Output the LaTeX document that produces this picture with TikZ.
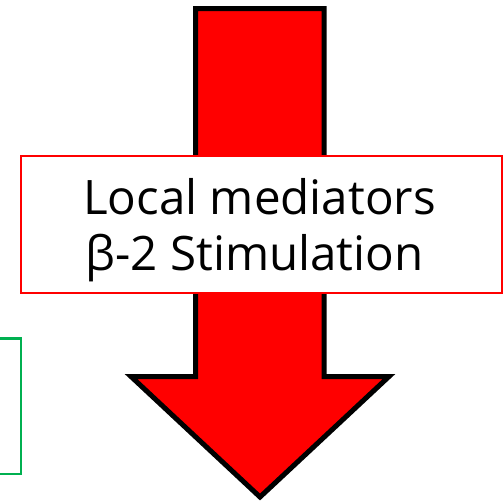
\documentclass[tikz,border=0pt]{standalone}
\usepackage{fontspec}
\setmainfont{Open Sans}
\definecolor{pptgreen}{RGB}{0,176,80}
\begin{document}
\begin{tikzpicture}[x=1pt,y=-1pt,
  arrowshape/.style={draw=black,fill=red,line width=5pt,line join=miter},
  labelbox/.style={draw=red,fill=white,line width=1.6pt},
  greenbox/.style={draw=pptgreen,line width=2.2pt},
  labeltext/.style={anchor=base,font=\fontsize{47.5}{56}\selectfont,inner sep=0pt}]
\useasboundingbox (0,0) rectangle (504,504);
\draw[greenbox] (-10,338.5) -- (21,338.5) -- (21,474) -- (-10,474);
\path[arrowshape] (195.5,8.5) -- (324,8.5) -- (324,376.5) -- (389,376.5) -- (260,497) -- (131,376.5) -- (195.5,376.5) -- cycle;
\path[labelbox] (21,156) rectangle (502,293);
\node (l1) at (259.5,214) [labeltext] {Local mediators};
\node (l2) at (254.5,270) [labeltext] {β-2 Stimulation};
\end{tikzpicture}
\end{document}
